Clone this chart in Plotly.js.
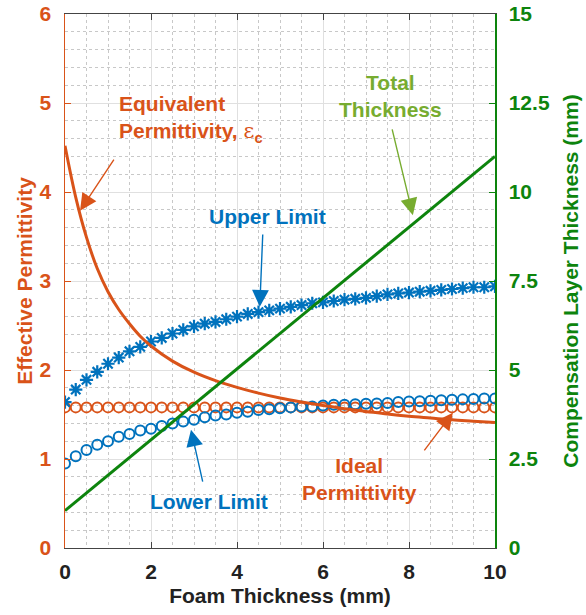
<!DOCTYPE html>
<html>
<head>
<meta charset="utf-8">
<script src="https://cdn.plot.ly/plotly-3.0.1.min.js"></script>
<style>
  html, body { margin: 0; padding: 0; background: #ffffff; }
  #chart { width: 586px; height: 615px; }
</style>
</head>
<body>
<div id="chart"></div>
<script>
// Foam thickness samples (mm) for the marker series
const foamThickness = [0, 0.25, 0.5, 0.75, 1, 1.25, 1.5, 1.75, 2, 2.25, 2.5, 2.75, 3, 3.25, 3.5, 3.75,
  4, 4.25, 4.5, 4.75, 5, 5.25, 5.5, 5.75, 6, 6.25, 6.5, 6.75, 7, 7.25, 7.5, 7.75,
  8, 8.25, 8.5, 8.75, 9, 9.25, 9.5, 9.75, 10];

// Ideal permittivity (orange circles)
const idealPermittivity = [1.58, 1.58, 1.58, 1.58, 1.58, 1.58, 1.58, 1.58, 1.58, 1.58, 1.58, 1.58, 1.58, 1.58,
  1.58, 1.58, 1.58, 1.58, 1.58, 1.58, 1.58, 1.58, 1.58, 1.58, 1.58, 1.58, 1.58, 1.58,
  1.58, 1.58, 1.58, 1.58, 1.58, 1.58, 1.58, 1.58, 1.58, 1.58, 1.58, 1.58, 1.58];

// Lower limit (blue circles)
const lowerLimit = [0.95, 1.03, 1.10, 1.16, 1.20, 1.25, 1.28, 1.32, 1.34, 1.37, 1.40, 1.42, 1.44, 1.47,
  1.49, 1.50, 1.52, 1.53, 1.55, 1.56, 1.57, 1.58, 1.59, 1.59, 1.60, 1.61, 1.61, 1.615,
  1.62, 1.625, 1.63, 1.64, 1.645, 1.65, 1.655, 1.66, 1.665, 1.67, 1.675, 1.68, 1.68];

// Upper limit (blue asterisks)
const upperLimit = [1.64, 1.78, 1.89, 1.98, 2.07, 2.14, 2.21, 2.26, 2.32, 2.36, 2.41, 2.45, 2.49, 2.52,
  2.54, 2.57, 2.60, 2.63, 2.65, 2.67, 2.69, 2.71, 2.73, 2.75, 2.76, 2.775, 2.79, 2.80,
  2.81, 2.83, 2.85, 2.86, 2.87, 2.88, 2.89, 2.90, 2.91, 2.92, 2.93, 2.93, 2.94];

// Equivalent permittivity curve (orange solid line)
const eqThickness = [0, 0.25, 0.5, 0.75, 1, 1.25, 1.5, 1.75, 2, 2.5, 3, 3.5, 4, 4.5, 5, 5.5, 6,
  6.5, 7, 7.5, 8, 8.5, 9, 9.5, 10];
const eqPermittivity = [4.52, 3.94, 3.49, 3.14, 2.88, 2.68, 2.52, 2.38, 2.27, 2.10, 1.975, 1.88, 1.805,
  1.74, 1.685, 1.64, 1.60, 1.565, 1.535, 1.505, 1.48, 1.46, 1.44, 1.425, 1.41];

// Total (compensation layer) thickness, right axis (mm)
const totalThicknessX = [0, 10];
const totalThickness = [1.05, 11.0];

// Axis ticks
const xTicks = [0, 2, 4, 6, 8, 10];
const leftTicks = [0, 1, 2, 3, 4, 5, 6];
const rightTicks = [0, 2.5, 5, 7.5, 10, 12.5, 15];
const rightTickText = ['0', '2.5', '5', '7.5', '10', '12.5', '15'];

const ORANGE = '#D95319';
const BLUE = '#0072BD';
const GREEN = '#0d840d';
const LIGHT_GREEN = '#77AC30';
const FONT = 'Liberation Sans, Arial, Helvetica, sans-serif';
const FS = 21;

const traces = [
  {
    x: foamThickness, y: idealPermittivity, type: 'scatter', mode: 'markers', name: 'Ideal',
    marker: { symbol: 'circle-open', size: 10, color: ORANGE, line: { width: 2, color: ORANGE } }
  },
  {
    x: foamThickness, y: lowerLimit, type: 'scatter', mode: 'markers', name: 'Lower',
    marker: { symbol: 'circle-open', size: 10, color: BLUE, line: { width: 2, color: BLUE } }
  },
  {
    x: foamThickness, y: upperLimit, type: 'scatter', mode: 'markers', name: 'Upper',
    marker: { symbol: 'asterisk-open', size: 11, color: BLUE, line: { width: 2.2, color: BLUE } }
  },
  {
    x: eqThickness, y: eqPermittivity, type: 'scatter', mode: 'lines', name: 'Equivalent',
    line: { color: ORANGE, width: 3, shape: 'spline', smoothing: 1 }
  },
  {
    x: totalThicknessX, y: totalThickness, type: 'scatter', mode: 'lines', name: 'Total', yaxis: 'y2',
    line: { color: GREEN, width: 3 }
  }
];

// Labels with pointer arrows
function label(text, x, y, color, opts) {
  return Object.assign({
    text: text, x: x, y: y, xref: 'x', yref: 'y', showarrow: false,
    font: { family: FONT, size: FS, color: color, weight: 'bold' }
  }, opts || {});
}
function pointer(hx, hy, tx, ty, color) {
  return {
    text: '', x: hx, y: hy, ax: tx, ay: ty, xref: 'x', yref: 'y', axref: 'x', ayref: 'y',
    showarrow: true, arrowhead: 2, arrowsize: 2.4, arrowwidth: 1.4, arrowcolor: color,
    font: { size: 1 }
  };
}

const annotations = [
  label('Equivalent<br>Permittivity, <span style="font-family:DejaVu Serif;font-weight:normal">ε</span><sub>c</sub>',
    1.2, 4.82, ORANGE, { xanchor: 'left', align: 'left' }),
  pointer(0.35, 3.79, 1.16, 4.38, ORANGE),
  label('Upper Limit', 4.72, 3.72, BLUE),
  pointer(4.53, 2.71, 4.60, 3.54, BLUE),
  label('Total<br>Thickness', 7.56, 5.08, LIGHT_GREEN),
  pointer(8.09, 3.74, 7.60, 4.72, LIGHT_GREEN),
  label('Lower Limit', 3.35, 0.52, BLUE),
  pointer(2.93, 1.33, 3.21, 0.73, BLUE),
  label('Ideal<br>Permittivity', 6.86, 0.77, ORANGE),
  pointer(9.02, 1.52, 8.33, 1.08, ORANGE)
];

const layout = {
  width: 586, height: 615,
  margin: { l: 65, r: 91, t: 14, b: 67, pad: 0 },
  paper_bgcolor: '#ffffff', plot_bgcolor: '#ffffff',
  showlegend: false,
  font: { family: FONT, size: FS, color: '#222222', weight: 'bold' },
  xaxis: {
    range: [0, 10], tickvals: xTicks, ticks: 'inside', ticklen: 6, tickwidth: 1, tickcolor: '#444444',
    showline: true, linecolor: '#444444', linewidth: 1, mirror: 'ticks',
    showgrid: true, gridcolor: '#e0e0e0', gridwidth: 1, zeroline: false,
    minor: { dtick: 0.5, showgrid: true, gridcolor: '#c8c8c8', griddash: 'dot', gridwidth: 1 },
    tickfont: { family: FONT, size: FS, color: '#222222', weight: 'bold' },
    ticklabelstandoff: 5,
    title: { text: 'Foam Thickness (mm)', font: { family: FONT, size: FS, color: '#222222', weight: 'bold' }, standoff: 6 }
  },
  yaxis: {
    range: [0, 6], tickvals: leftTicks, ticks: 'inside', ticklen: 6, tickwidth: 1, tickcolor: ORANGE,
    showline: true, linecolor: ORANGE, linewidth: 1.5,
    showgrid: true, gridcolor: '#e0e0e0', gridwidth: 1, zeroline: false,
    minor: { dtick: 0.2, showgrid: true, gridcolor: '#c8c8c8', griddash: 'dot', gridwidth: 1 },
    tickfont: { family: FONT, size: FS, color: ORANGE, weight: 'bold' },
    ticklabelstandoff: 8,
    title: { text: 'Effective Permittivity', font: { family: FONT, size: FS, color: ORANGE, weight: 'bold' }, standoff: 1 }
  },
  yaxis2: {
    range: [0, 15], tickvals: rightTicks, ticktext: rightTickText, overlaying: 'y', side: 'right',
    ticks: 'inside', ticklen: 6, tickwidth: 1, tickcolor: GREEN,
    showline: true, linecolor: GREEN, linewidth: 1.5, showgrid: false, zeroline: false,
    tickfont: { family: FONT, size: FS, color: GREEN, weight: 'bold' },
    ticklabelstandoff: 8,
    title: { text: 'Compensation Layer Thickness (mm)', font: { family: FONT, size: FS, color: GREEN, weight: 'bold' }, standoff: 14 }
  },
  annotations: annotations
};

Plotly.newPlot('chart', traces, layout, { staticPlot: true, displayModeBar: false });
</script>
</body>
</html>
